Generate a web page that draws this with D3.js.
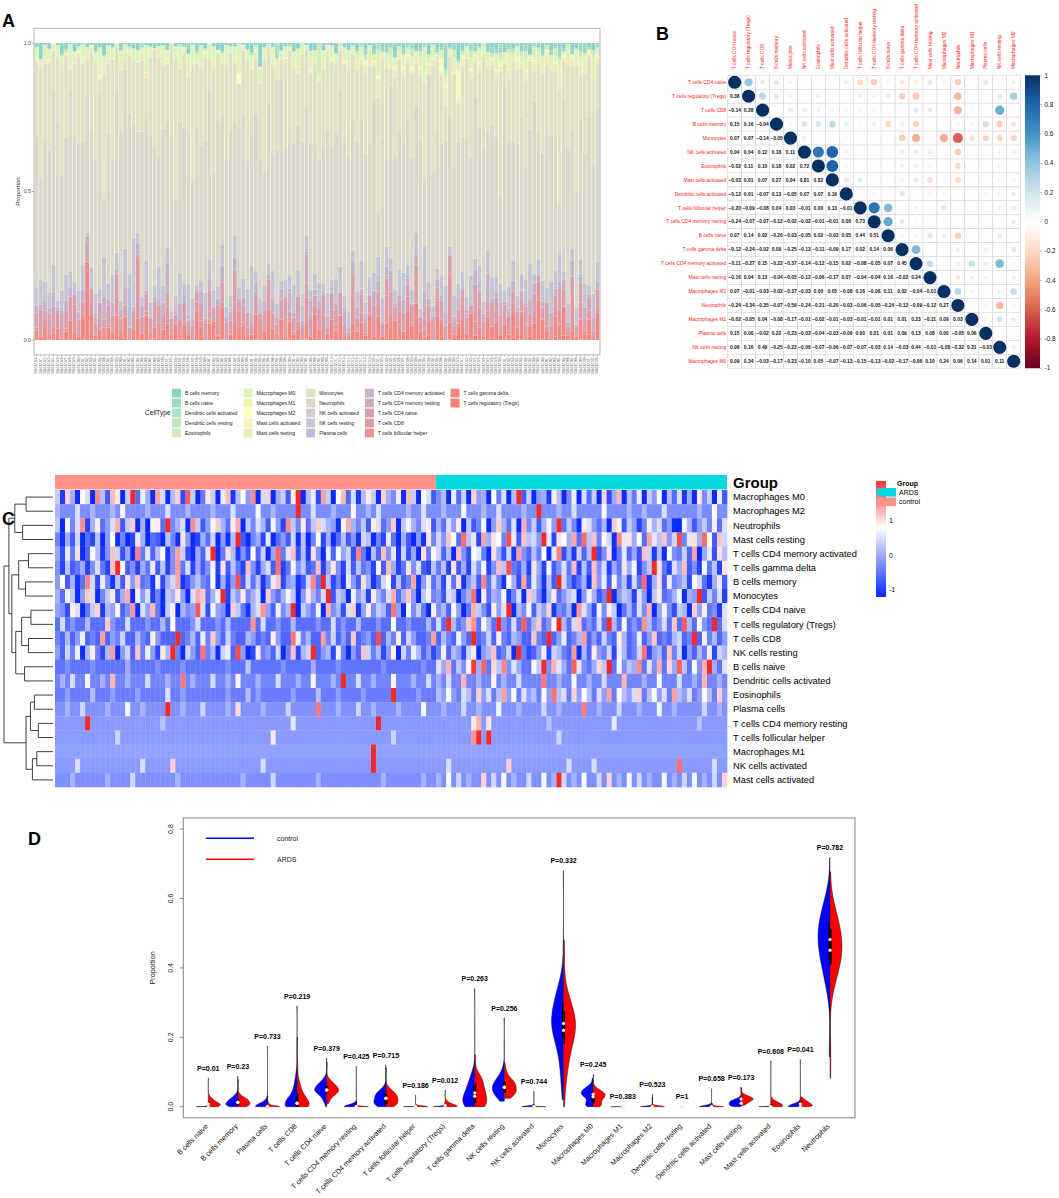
<!DOCTYPE html>
<html><head><meta charset="utf-8">
<script src="https://cdn.jsdelivr.net/npm/d3@7"></script>
<style>body{margin:0;background:#fff}svg{display:block;background:#fff}text{font-family:"Liberation Sans",Arial,Helvetica,sans-serif}</style>
</head><body><svg id="fig" width="1059" height="1198"></svg>
<script>
// ---------------- DATA ----------------
const cellTypes = ["B cells naive","B cells memory","Plasma cells","T cells CD8","T cells CD4 naive","T cells CD4 memory resting","T cells CD4 memory activated","T cells follicular helper","T cells regulatory (Tregs)","T cells gamma delta","NK cells resting","NK cells activated","Monocytes","Macrophages M0","Macrophages M1","Macrophages M2","Dendritic cells resting","Dendritic cells activated","Mast cells resting","Mast cells activated","Eosinophils","Neutrophils"];
const legendOrder = ["B cells memory","B cells naive","Dendritic cells activated","Dendritic cells resting","Eosinophils","Macrophages M0","Macrophages M1","Macrophages M2","Mast cells activated","Mast cells resting","Monocytes","Neutrophils","NK cells activated","NK cells resting","Plasma cells","T cells CD4 memory activated","T cells CD4 memory resting","T cells CD4 naive","T cells CD8","T cells follicular helper","T cells gamma delta","T cells regulatory (Tregs)"];
// per-sample fractions, one base-36 digit per sample (control | ARDS), digit * levelStep = fraction
const levelStep = [0.0025,0.0025,0.005,0.01,0.004,0.004,0.004,0.002,0.002,0.01,0.008,0.0025,0.02,0.003,0.001,0.0015,0.001,0.002,0.002,0.004,0.004,0.0205];
const sampleLevels = [
"0010000100 0000200000 1000010000 0000100030 0000010000 0200001000 0000010000 000100|4270315a29 0638142005 3x17420941 0263c05132 8041706293 0517d204",
"5a2603e819 4072b5c340 9168d02574 3a0615g283 7049c15602 8e3z714095 2b6038a172 4d0593|6193b0572e 3840a61d29 5072v84136 0c592a4718 3f06b29457 1a830692",
"0010020000 1000300100 00z0010002 0000104000 0100002000 0060001000 2001000010 000300|0100020010 0030001000 0200100006 0010002000 1000300100 00020010",
"1030250108 0214003106 2000t01305 1720410032 0106200951 3008140207 0120a03160 420018|0310520c01 4061032007 10k0250138 0204106301 5027010340 1b061302",
"cb8hf3aei7 dcg9bk5fcj a6eh2dbcmf 8gcb0iea7d fkc9hbdz6e cag4jbd8fi 7chbed9lc5 gbea3h|bd9gc6ajeb 8hcfw3dbg9 eci7bad5kf c8gbhe2ad9 fbj6cgb8ed 4ichab7f",
"000000a000 0000000000 0100000000 0000000000 0000000200 0000000000 0000t00000 000000|0000000340 3000000000 0010000000 0000020000 0000000000 00100000",
"6294b03a71 5c8260e493 7a15d82063 9u04b7152a 3806f49c27 1b5093a682 e4073c5918 260b4a|8370c52a94 0b6281d537 4a09e26183 7s25b04936 2c8170a548 3d0692b7",
"0000000000 0010000000 0000000000 0000000000 0002000000 0000000000 0000000100 000000|00000003h0 c000000000 0000100000 0000000000 0000000000 00000000",
"0301002000 5100300010 0204000130 0010200006 0300100200 0010030100 2000100400 100020|3082015604 20a1030702 5014o20350 1030820401 0620130507 20410903",
"3051240362 09y7130428 1503a26041 3708152093 0461b02735 1290483061 5230719402 836105|2508140637 0395c21408 4071362905 1936042847 035f820649 13072508",
"7596a38b64 8d2795c6a7 4b8w63975e 6839a5f724 b675936c48 9m5784a637 5c96847b29 6a8574|6a58749b37 8c5693g645 7a49865d38 5b7694a856 9e4785c693 7586a498",
"0000100000 0000000100 0002000000 0000000000 0100000000 0000000000 000i000000 000000|0010000000 0000200000 0000001000 0100000000 0000000030 00000100",
"c9fd6bhe3a dg8ci2fbe7 a1dcgb5eih 9cfy7dbgac e4hb9cfd6b gcaen8dc3f bd7gcaei9c hb5dfa|b8ed5ack2g 9cbf7ae0hd a6cg9bde4b fc8an3bdc7 eb5dg9acf6 cbo8dae7",
"c3ha0fd2kb 5ig1cr6ea0 jd2bh4mc07 gc1ei3bf9k 2dh0ac5gr1 be4jc0fi6d 3bgc1ha8e2 ic0fd5|8b1e6c0h9a 2f7d0bv5c1 9a3gb08e2d 6c0h4ai1b7 e2c9f0b6d3 a0g8c2e5",
"0000000000 0000000000 0000000000 0000000000 0000000000 0000000000 0002000000 000000|0000000000 0000000000 0000000000 0000000000 0000000000 00000000",
"1000200100 0103000010 0020001000 0100020000 30010000i0 0200010003 0010200000 100200|0100030001 0020000100 o000100200 0003000010 0100020000 00100300",
"0000000000 0000000000 0000000000 0000000000 0000000000 0000000000 0000000000 000000|0000000000 0000000000 0000000000 0000000000 0000000000 00000000",
"0102003001 0400100020 0010050100 0200103000 1000200010 0300010q00 2001000300 010020|1020040010 0301002000 0500100300 1002000400 0100300020 01040010",
"6284a05391 7c2603b815 40962d7138 5a0729s416 83b0574a29 16c3805947 2a9063b518 4072d6|a7ec5h9b3f 8dc6ib4e9a 7rb3dc8f5h 9e6ca2gbd8 c5fb9e7ai6 bd8hc4ea",
"0001000000 1000020000 0000100000 0000000100 0002000000 0010000000 0000010000 000100|1030201004 0203010020 0301x20103 0020401030 2010030102 03010204",
"0010000200 0100001000 0030010000 0000100020 1000000100 0020001000 0100000y00 001000|2141032051 3026140312 0417230514 2031604213 5024130621 30142051",
"o8qlpuinrk mptjos7ngq rkzlnphuoj mqsnkrtgol pnjqmiuolr kospnmhqtn lojrpkmsgo qnlprj|nkpmr4ojlq hmsnkp9tlo jnqmxkolhr pmkngsqjom ilrnpkmh6q njmolrkp"
];
const groupNames = ["control","ARDS"];
const pLabels = ["P=0.01","P=0.23","P=0.733","P=0.219","P=0.379","P=0.425","P=0.715","P=0.186","P=0.012","P=0.263","P=0.256","P=0.744","P=0.332","P=0.245","P=0.383","P=0.523","P=1","P=0.658","P=0.173","P=0.608","P=0.041","P=0.782"];

const corrOrder = ["T cells CD4 naive","T cells regulatory (Tregs)","T cells CD8","B cells memory","Monocytes","NK cells activated","Eosinophils","Mast cells activated","Dendritic cells activated","T cells follicular helper","T cells CD4 memory resting","B cells naive","T cells gamma delta","T cells CD4 memory activated","Mast cells resting","Macrophages M2","Neutrophils","Macrophages M1","Plasma cells","NK cells resting","Macrophages M0"];
const corrLower = [
 [],
 [0.38],
 [-0.14,0.28],
 [0.15,0.16,-0.04],
 [0.07,0.07,-0.14,-0.05],
 [0.04,0.04,0.12,0.18,0.11],
 [-0.02,0.11,0.10,0.18,0.02,0.72],
 [-0.03,0.01,0.07,0.27,0.04,0.81,0.82],
 [-0.12,0.01,-0.07,0.13,-0.05,0.07,0.07,0.16],
 [-0.20,-0.09,-0.08,0.04,0.03,-0.01,0.00,0.13,-0.01],
 [-0.24,-0.07,-0.07,-0.12,-0.02,-0.02,-0.01,-0.01,0.06,0.73],
 [0.07,0.14,0.02,-0.20,-0.03,-0.05,0.02,-0.03,0.05,0.44,0.51],
 [-0.12,-0.24,-0.02,0.09,-0.25,-0.13,-0.11,-0.09,0.17,0.02,0.14,0.06],
 [-0.11,-0.27,0.15,-0.22,-0.37,-0.14,-0.12,-0.15,0.02,-0.08,-0.05,0.07,0.45],
 [-0.16,0.04,0.13,-0.04,-0.05,-0.12,-0.06,-0.17,0.07,-0.04,-0.04,0.16,-0.02,0.24],
 [0.07,-0.01,-0.03,-0.02,-0.37,-0.03,0.00,0.05,-0.08,0.16,-0.06,0.11,0.02,-0.04,-0.01],
 [-0.24,-0.34,-0.35,-0.07,-0.59,-0.24,-0.21,-0.20,-0.03,-0.06,-0.05,-0.24,-0.12,-0.09,-0.12,0.27],
 [-0.02,-0.05,0.04,-0.08,-0.17,-0.01,-0.02,-0.01,-0.03,-0.01,-0.01,0.01,0.01,0.23,-0.11,0.09,0.03],
 [0.15,0.00,-0.02,0.22,-0.23,-0.03,-0.04,-0.03,-0.06,0.00,0.01,0.01,0.09,0.13,0.08,0.00,-0.05,0.06],
 [0.06,0.16,0.49,-0.25,-0.22,-0.06,-0.07,-0.06,-0.07,-0.07,-0.03,0.14,-0.03,0.44,-0.01,-0.08,-0.32,0.21,-0.03],
 [0.09,0.34,-0.03,-0.17,-0.23,-0.10,0.05,-0.07,-0.13,-0.15,-0.13,-0.02,-0.17,-0.06,0.10,0.24,0.06,0.14,0.01,0.11]
];
const corrTicks = [1,0.8,0.6,0.4,0.2,0,-0.2,-0.4,-0.6,-0.8,-1];

const heatOrder = ["Macrophages M0","Macrophages M2","Neutrophils","Mast cells resting","T cells CD4 memory activated","T cells gamma delta","B cells memory","Monocytes","T cells CD4 naive","T cells regulatory (Tregs)","T cells CD8","NK cells resting","B cells naive","Dendritic cells activated","Eosinophils","Plasma cells","T cells CD4 memory resting","T cells follicular helper","Macrophages M1","NK cells activated","Mast cells activated"];
// row dendrogram: [left, right, mergeHeight], leaves = row index in heatOrder
const dendroTree = [
  [[[0,1,0.55],[2,3,0.62],0.78],
   [[[4,5,0.5],[6,7,0.56],0.7],[[[8,9,0.45],[10,11,0.5],0.64],[12,13,0.58],0.76],0.84],0.9],
  [[[14,15,0.38],[16,17,0.3],0.46],[[18,19,0.33],20,0.42],0.55],
  1.0];
const heatTicks = [1,0,-1];
const yTicksA = [0,0.5,1];
const yTicksD = [0,0.2,0.4,0.6,0.8];

// ---------------- DECODE ----------------
const decoded = sampleLevels.map((s,i)=>s.split("|").map(p=>Array.from(p.replace(/\s+/g,"")).map(ch=>parseInt(ch,36)*levelStep[i])));
const nCtrl = decoded[0][0].length, nArds = decoded[0][1].length;
const values = decoded.map(([c,a])=>{c=c.slice(0,nCtrl);a=a.slice(0,nArds);while(c.length<nCtrl)c.push(0);while(a.length<nArds)a.push(0);return c.concat(a);});
const N = nCtrl+nArds;
const sampleIds = d3.range(N).map(j=>"GSM"+(1921840+j));
const sampleGroup = d3.range(N).map(j=>j<nCtrl?groupNames[0]:groupNames[1]);
const valOf = name => values[cellTypes.indexOf(name)];

const svg = d3.select("#fig");
const letter = (t,x,y)=>svg.append("text").attr("x",x).attr("y",y).attr("font-size",18).attr("font-weight","bold").text(t);

// ---------------- PANEL A ----------------
{
const g = svg.append("g");
const xA = d3.scaleBand().domain(sampleIds).range([34,600]).paddingInner(0.1).paddingOuter(0.15);
const yA = d3.scaleLinear().domain([-0.05,1.05]).range([354.9,28.2]);
const palA = d3.piecewise(d3.interpolateRgb,["#8DD3C7","#FFFFB3","#BEBADA","#FB8072"]);
const colorA = d3.scaleOrdinal().domain(legendOrder).range(legendOrder.map((_,i)=>palA(i/(legendOrder.length-1))));
const rows = sampleIds.map((id,j)=>{const o={id};cellTypes.forEach((t,i)=>o[t]=values[i][j]);return o;});
const stack = d3.stack().keys(legendOrder.slice().reverse()).offset(d3.stackOffsetExpand)(rows);
g.selectAll("g.layer").data(stack).join("g").attr("fill",d=>colorA(d.key))
 .selectAll("rect").data(d=>d).join("rect")
 .attr("x",d=>xA(d.data.id)).attr("width",xA.bandwidth())
 .attr("y",d=>yA(d[1])).attr("height",d=>Math.max(0,yA(d[0])-yA(d[1])));
g.append("rect").attr("x",34).attr("y",28.2).attr("width",566).attr("height",326.7).attr("fill","none").attr("stroke","#a9a9a9").attr("stroke-width",0.8);
yTicksA.forEach(t=>{
  g.append("line").attr("x1",31.8).attr("x2",34).attr("y1",yA(t)).attr("y2",yA(t)).attr("stroke","#555").attr("stroke-width",0.5);
  g.append("text").attr("x",31).attr("y",yA(t)).attr("dy","0.35em").attr("text-anchor","end").attr("font-size",5.3).attr("fill","#4d4d4d").text(d3.format(".1f")(t));
});
g.append("text").attr("transform",`translate(20,${yA(0.5)}) rotate(-90)`).attr("text-anchor","middle").attr("font-size",6.2).attr("fill","#222").text("Proportion");
sampleIds.forEach(id=>{
  const cx = xA(id)+xA.bandwidth()/2;
  g.append("line").attr("x1",cx).attr("x2",cx).attr("y1",354.9).attr("y2",356.6).attr("stroke","#555").attr("stroke-width",0.35);
  g.append("text").attr("transform",`translate(${cx},357.6) rotate(-90)`).attr("text-anchor","end").attr("dy","0.35em").attr("font-size",2.6).attr("fill","#4d4d4d").text(id);
});
// legend
g.append("text").attr("x",145).attr("y",413).attr("dy","0.35em").attr("font-size",6.6).attr("fill","#222").text("CellType");
let colX = 172;
for(let c=0;c<Math.ceil(legendOrder.length/5);c++){
  let maxW = 0;
  legendOrder.slice(c*5,c*5+5).forEach((name,r)=>{
    const cy = 393 + r*10;
    g.append("rect").attr("x",colX).attr("y",cy-4.4).attr("width",9).attr("height",8.8).attr("fill",colorA(name));
    const t = g.append("text").attr("x",colX+13).attr("y",cy).attr("dy","0.35em").attr("font-size",5).attr("fill","#222").text(name);
    maxW = Math.max(maxW,t.node().getComputedTextLength());
  });
  colX = colX+13+maxW+6;
}
}
letter("A",2,27);

// ---------------- PANEL B ----------------
{
const g = svg.append("g");
const cs = 13.95, bx0 = 727.7, by0 = 75.3, nB = corrOrder.length;
const xB = d3.scaleBand().domain(corrOrder).range([bx0,bx0+nB*cs]);
const yB = d3.scaleBand().domain(corrOrder).range([by0,by0+nB*cs]);
const corrVal = (i,j)=> i===j?1:(i>j?corrLower[i][j]:corrLower[j][i]);
const corrPal = d3.piecewise(d3.interpolateRgb,["#67001F","#B2182B","#D6604D","#F4A582","#FDDBC7","#FFFFFF","#D1E5F0","#92C5DE","#4393C3","#2166AC","#053061"]);
const corrColor = v=>corrPal((v+1)/2);
const rB = d3.scaleSqrt().domain([0,1]).range([0,cs*0.47]);
const cells = [];
corrOrder.forEach((a,i)=>corrOrder.forEach((b,j)=>cells.push({i,j,a,b,v:corrVal(i,j)})));
g.selectAll("rect.cell").data(cells).join("rect").attr("x",d=>xB(d.b)).attr("y",d=>yB(d.a)).attr("width",cs).attr("height",cs).attr("fill","#fff").attr("stroke","#d6d6d6").attr("stroke-width",0.6);
g.selectAll("circle").data(cells.filter(d=>d.j>=d.i)).join("circle")
 .attr("cx",d=>xB(d.b)+cs/2).attr("cy",d=>yB(d.a)+cs/2).attr("r",d=>rB(Math.abs(d.v))).attr("fill",d=>corrColor(d.v));
const fmt = d3.format(".2f");
g.selectAll("text.num").data(cells.filter(d=>d.j<d.i)).join("text")
 .attr("x",d=>xB(d.b)+cs/2).attr("y",d=>yB(d.a)+cs/2).attr("dy","0.35em").attr("text-anchor","middle")
 .attr("font-size",4.9).attr("font-weight","bold").attr("fill","#111").text(d=>fmt(d.v).replace("-","\u2212"));
corrOrder.forEach(name=>{
  g.append("text").attr("x",bx0-1.5).attr("y",yB(name)+cs/2).attr("dy","0.35em").attr("text-anchor","end").attr("font-size",4.9).attr("fill","#ff1a1a").text(name);
  g.append("text").attr("transform",`translate(${xB(name)+cs/2},${by0-6}) rotate(-90)`).attr("dy","0.35em").attr("font-size",4.9).attr("fill","#ff1a1a").text(name);
});
// colorbar
const yCB = d3.scaleLinear().domain([-1,1]).range([by0+nB*cs,by0]);
const grad = svg.append("defs").append("linearGradient").attr("id","gradB").attr("x1",0).attr("y1",0).attr("x2",0).attr("y2",1);
d3.range(0,41).forEach(k=>grad.append("stop").attr("offset",k/40).attr("stop-color",corrColor(1-2*k/40)));
g.append("rect").attr("x",1025).attr("y",yCB(1)).attr("width",15).attr("height",yCB(-1)-yCB(1)).attr("fill","url(#gradB)");
corrTicks.forEach(t=>{
  g.append("line").attr("x1",1040).attr("x2",1042).attr("y1",yCB(t)).attr("y2",yCB(t)).attr("stroke","#555").attr("stroke-width",0.4);
  g.append("text").attr("x",1044.5).attr("y",yCB(t)).attr("dy","0.35em").attr("font-size",6.4).attr("fill","#111").text(String(t));
});
}
letter("B",656,40);

// ---------------- PANEL C ----------------
{
const g = svg.append("g");
const xC = d3.scaleBand().domain(sampleIds).range([55,727]);
const yC = d3.scaleBand().domain(heatOrder).range([490,787]);
const groupColor = d3.scaleOrdinal().domain(groupNames).range(["#FF9289","#00DAE0"]);
const heatColor = d3.scaleLinear().domain([-1.2,0.8,2.2]).range(["#0a2aff","#ffffff","#f42a2a"]).clamp(true);
// annotation bar
groupNames.forEach(gn=>{
  const ids = sampleIds.filter((_,j)=>sampleGroup[j]===gn);
  const x0 = xC(ids[0]), x1 = xC(ids[ids.length-1])+xC.bandwidth();
  g.append("rect").attr("x",x0).attr("y",475).attr("width",x1-x0).attr("height",14.4).attr("fill",groupColor(gn));
});
// cells (row z-score)
heatOrder.forEach(name=>{
  const v = valOf(name), m = d3.mean(v), sd = d3.deviation(v)||1;
  g.append("g").selectAll("rect").data(v.map((x,j)=>({id:sampleIds[j],z:(x-m)/sd}))).join("rect")
   .attr("x",d=>xC(d.id)).attr("y",yC(name)).attr("width",xC.bandwidth()+0.35).attr("height",yC.bandwidth()+0.3)
   .attr("fill",d=>heatColor(d.z));
  g.append("text").attr("x",733).attr("y",yC(name)+yC.bandwidth()/2).attr("dy","0.35em").attr("font-size",9.3).attr("fill","#000").text(name);
});
g.append("text").attr("x",733).attr("y",482.5).attr("dy","0.35em").attr("font-size",15).attr("font-weight","bold").text("Group");
// dendrogram
const xDen = d3.scaleLinear().domain([0,1]).range([53,4]);
const den = g.append("g").attr("fill","none").attr("stroke","#111").attr("stroke-width",0.8);
function drawNode(node){
  if(typeof node==="number") return {y:yC(heatOrder[node])+yC.bandwidth()/2,h:0};
  const [l,r,h] = node, a = drawNode(l), b = drawNode(r), xh = xDen(h);
  den.append("path").attr("d",`M${xDen(a.h)},${a.y}H${xh}V${b.y}H${xDen(b.h)}`);
  return {y:(a.y+b.y)/2,h};
}
drawNode(dendroTree);
// legends
const yHL = d3.scaleLinear().domain([-1,1]).range([590,521]);
const top = 481, bot = 597;
const grad = svg.append("defs").append("linearGradient").attr("id","gradC").attr("x1",0).attr("y1",0).attr("x2",0).attr("y2",1);
d3.range(0,51).forEach(k=>grad.append("stop").attr("offset",k/50).attr("stop-color",heatColor(yHL.invert(top+(bot-top)*k/50))));
g.append("rect").attr("x",876).attr("y",top).attr("width",10).attr("height",bot-top).attr("fill","url(#gradC)");
heatTicks.forEach(t=>g.append("text").attr("x",889).attr("y",yHL(t)).attr("dy","0.35em").attr("font-size",7).text(String(t)));
g.append("text").attr("x",897).attr("y",483.5).attr("dy","0.35em").attr("font-size",7).attr("font-weight","bold").text("Group");
[groupNames[1],groupNames[0]].forEach((gn,k)=>{
  g.append("rect").attr("x",877).attr("y",488+k*9.5).attr("width",19).attr("height",8.6).attr("fill",groupColor(gn));
  g.append("text").attr("x",899).attr("y",492.3+k*9.5).attr("dy","0.35em").attr("font-size",7).text(gn);
});
}
letter("C",2,525);

// ---------------- PANEL D ----------------
{
const g = svg.append("g");
const xD = d3.scaleLinear().domain([1,22]).range([208.3,830]);
const yD = d3.scaleLinear().domain([0,0.8]).range([1106.7,829.1]);
const halfW = 12;
const groupFill = d3.scaleOrdinal().domain(groupNames).range(["#0000ff","#ff0000"]);
function density(arr){
  const n = arr.length, sd = d3.deviation(arr)||0;
  const mn = d3.min(arr), mx = d3.max(arr);
  if(!(mx>mn)) return null;
  const bw = 1.06*sd*Math.pow(n,-0.2);
  return d3.range(0,121).map(k=>{const p = mn+(mx-mn)*k/120;return {v:p,d:d3.sum(arr,x=>Math.exp(-0.5*((p-x)/bw)**2))};});
}
cellTypes.forEach((name,i)=>{
  const cx = xD(i+1), v = values[i];
  const parts = [v.slice(0,nCtrl),v.slice(nCtrl)];
  parts.forEach((arr,gi)=>{
    const dens = density(arr), side = gi===0?-1:1;
    if(dens){
      const md = d3.max(dens,d=>d.d);
      const area = d3.area().y(d=>yD(d.v)).x0(cx).x1(d=>cx+side*halfW*d.d/md);
      g.append("path").attr("d",area(dens)).attr("fill",groupFill(groupNames[gi])).attr("stroke","#111").attr("stroke-width",0.45);
    }
    const s = arr.slice().sort(d3.ascending);
    const q1 = d3.quantile(s,0.25), q3 = d3.quantile(s,0.75);
    if(q3>q1) g.append("rect").attr("x",side<0?cx-1.6:cx).attr("y",yD(q3)).attr("width",1.6).attr("height",yD(q1)-yD(q3)).attr("fill","#000");
  });
  parts.forEach(arr=>{
    g.append("circle").attr("cx",cx).attr("cy",yD(d3.median(arr))).attr("r",1.5).attr("fill","#fffaf2").attr("stroke","#f6c98d").attr("stroke-width",0.4);
  });
  g.append("text").attr("x",cx).attr("y",yD(d3.max(v)+0.028)).attr("dy","0.35em").attr("text-anchor","middle").attr("font-size",7).attr("font-weight","bold").text(pLabels[i]);
  g.append("text").attr("transform",`translate(${cx-1.5},1125) rotate(-45)`).attr("text-anchor","end").attr("dy","0.35em").attr("font-size",7.2).attr("fill","#111").text(name);
});
const fx0 = 183.3, fx1 = 855, fy0 = yD(0.832), fy1 = yD(-0.032);
g.append("rect").attr("x",fx0).attr("y",fy0).attr("width",fx1-fx0).attr("height",fy1-fy0).attr("fill","none").attr("stroke","#777").attr("stroke-width",0.9);
yTicksD.forEach(t=>{
  g.append("line").attr("x1",fx0-3.5).attr("x2",fx0).attr("y1",yD(t)).attr("y2",yD(t)).attr("stroke","#555").attr("stroke-width",0.7);
  g.append("text").attr("transform",`translate(173,${yD(t)}) rotate(-90)`).attr("text-anchor","middle").attr("font-size",7).attr("fill","#222").text(d3.format(".1f")(t));
});
g.append("text").attr("transform",`translate(155,${(fy0+fy1)/2}) rotate(-90)`).attr("text-anchor","middle").attr("font-size",7.2).attr("fill","#222").text("Proportion");
groupNames.forEach((gn,k)=>{
  const ly = 838.3+k*21;
  g.append("line").attr("x1",206).attr("x2",254).attr("y1",ly).attr("y2",ly).attr("stroke",groupFill(gn)).attr("stroke-width",1.6);
  g.append("text").attr("x",277).attr("y",ly).attr("dy","0.35em").attr("font-size",7).attr("fill","#222").text(gn);
});
}
letter("D",28,845);
</script></body></html>
